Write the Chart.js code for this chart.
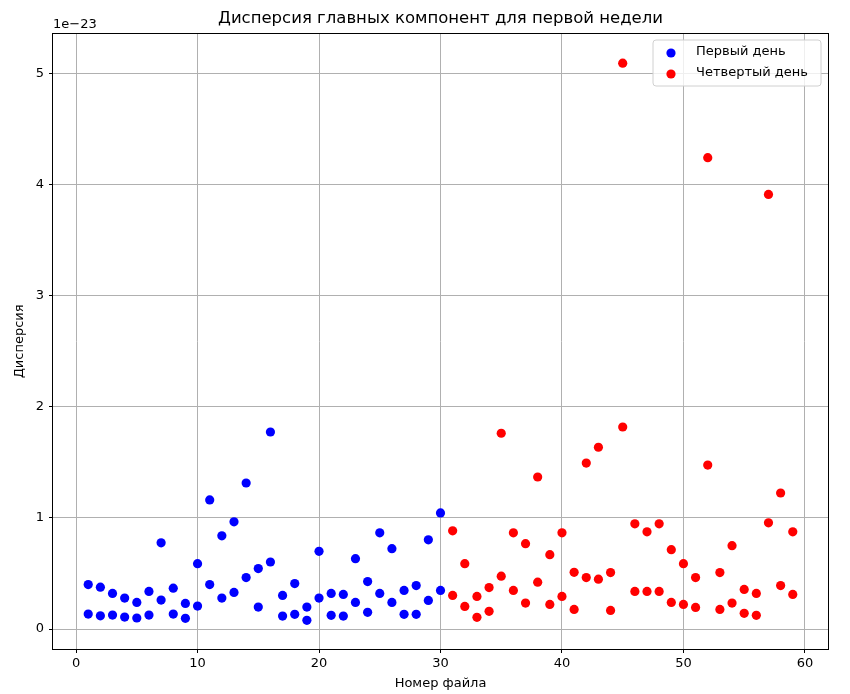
<!DOCTYPE html>
<html>
<head>
<meta charset="utf-8">
<script src="https://cdn.jsdelivr.net/npm/chart.js@4.4.1/dist/chart.umd.min.js"></script>
<style>
  html, body { margin: 0; padding: 0; background: #ffffff; }
  #wrap { width: 850px; height: 694px; }
</style>
</head>
<body>
<div id="wrap"><canvas id="c" width="850" height="694"></canvas></div>
<script>
// ---- Data (variance values in units of 1e-23) ----
const day1Files = [1,2,3,4,5,6,7,8,9,10,11,12,13,14,15,16,17,18,19,20,21,22,23,24,25,26,27,28,29,30];
const day1VarA = [0.400,0.376,0.320,0.278,0.239,0.338,0.776,0.367,0.230,0.588,1.162,0.839,0.965,1.314,0.544,1.773,0.302,0.409,0.197,0.699,0.320,0.311,0.633,0.427,0.866,0.723,0.347,0.391,0.803,1.045];
const day1VarB = [0.134,0.119,0.125,0.107,0.099,0.125,0.260,0.134,0.096,0.206,0.400,0.278,0.329,0.463,0.197,0.603,0.116,0.132,0.078,0.278,0.123,0.116,0.239,0.150,0.320,0.239,0.132,0.132,0.257,0.347];

const day4Files = [31,32,33,34,35,36,37,38,39,40,41,42,43,44,45,46,47,48,49,50,51,52,53,54,55,56,57,58,59];
const day4VarA = [0.884,0.588,0.293,0.373,1.762,0.866,0.768,1.368,0.669,0.866,0.510,1.493,1.636,0.508,5.093,0.947,0.875,0.947,0.714,0.588,0.463,4.242,0.508,0.750,0.356,0.320,3.911,1.224,0.875];
const day4VarB = [0.302,0.203,0.105,0.159,0.475,0.347,0.233,0.421,0.221,0.293,0.176,0.463,0.448,0.167,1.818,0.338,0.338,0.338,0.239,0.221,0.194,1.475,0.176,0.233,0.141,0.123,0.956,0.391,0.311];

const seriesNames = ['Первый день', 'Четвертый день'];
const seriesColors = ['#0000ff', '#ff0000'];
const xTicks = [0, 10, 20, 30, 40, 50, 60];
const yTicks = [0, 1, 2, 3, 4, 5];
const offsetText = '1e\u221223';
const chartTitle = 'Дисперсия главных компонент для первой недели';
const xTitle = 'Номер файла';
const yTitle = 'Дисперсия';

function toPoints(xs, a, b) {
  const pts = [];
  xs.forEach((x, i) => { pts.push({x: x, y: a[i]}); pts.push({x: x, y: b[i]}); });
  return pts;
}

const FONT = 'DejaVu Sans';

const framePlugin = {
  id: 'frame',
  afterDraw(chart) {
    const {ctx, chartArea: a} = chart;
    ctx.save();
    // axes frame
    ctx.strokeStyle = '#000000';
    ctx.lineWidth = 1;
    ctx.strokeRect(Math.round(a.left) - 0.5, Math.round(a.top) - 0.5,
                   Math.round(a.right) - Math.round(a.left) + 1, Math.round(a.bottom) - Math.round(a.top) + 1);
    // offset text
    ctx.fillStyle = '#000000';
    ctx.font = '13px "' + FONT + '"';
    ctx.textBaseline = 'middle';
    ctx.textAlign = 'left';
    ctx.fillText(offsetText, a.left, 25);
    // legend
    const bx = 653, by = 40, bw = 168, bh = 46, r = 3;
    ctx.beginPath();
    ctx.moveTo(bx + r, by);
    ctx.lineTo(bx + bw - r, by);
    ctx.quadraticCurveTo(bx + bw, by, bx + bw, by + r);
    ctx.lineTo(bx + bw, by + bh - r);
    ctx.quadraticCurveTo(bx + bw, by + bh, bx + bw - r, by + bh);
    ctx.lineTo(bx + r, by + bh);
    ctx.quadraticCurveTo(bx, by + bh, bx, by + bh - r);
    ctx.lineTo(bx, by + r);
    ctx.quadraticCurveTo(bx, by, bx + r, by);
    ctx.closePath();
    ctx.fillStyle = 'rgba(255,255,255,0.8)';
    ctx.fill();
    ctx.strokeStyle = '#d0d0d0';
    ctx.stroke();
    const rows = [53, 74];
    seriesNames.forEach((name, i) => {
      ctx.beginPath();
      ctx.arc(671, rows[i], 4.6, 0, Math.PI * 2);
      ctx.fillStyle = seriesColors[i];
      ctx.fill();
      ctx.fillStyle = '#000000';
      ctx.fillText(name, 696, rows[i] - 1);
    });
    ctx.restore();
  }
};

new Chart(document.getElementById('c'), {
  type: 'scatter',
  data: {
    datasets: [
      { label: seriesNames[0], data: toPoints(day1Files, day1VarA, day1VarB),
        backgroundColor: seriesColors[0], borderWidth: 0, pointRadius: 4.6, pointHoverRadius: 4.6 },
      { label: seriesNames[1], data: toPoints(day4Files, day4VarA, day4VarB),
        backgroundColor: seriesColors[1], borderWidth: 0, pointRadius: 4.6, pointHoverRadius: 4.6 }
    ]
  },
  options: {
    responsive: false,
    animation: false,
    devicePixelRatio: 1,
    layout: { padding: { left: 0, right: 22, top: 0, bottom: 0 } },
    plugins: {
      legend: { display: false },
      tooltip: { enabled: false },
      title: {
        display: true, text: chartTitle, color: '#000000', fullSize: false,
        font: { family: FONT, size: 16.5, weight: 'normal' },
        padding: { top: 9, bottom: 5 }
      }
    },
    scales: {
      x: {
        type: 'linear', min: -1.9, max: 61.9,
        afterBuildTicks(s) { s.ticks = xTicks.map(v => ({ value: v })); },
        afterFit(s) { s.height = 45; },
        ticks: { color: '#000000', font: { family: FONT, size: 13 }, padding: 3, maxRotation: 0 },
        grid: { color: '#b0b0b0', lineWidth: 1, tickColor: '#000000', tickLength: 4, tickWidth: 1 },
        border: { display: false },
        title: { display: true, text: xTitle, color: '#000000', font: { family: FONT, size: 13 }, padding: { top: 0, bottom: 3 } }
      },
      y: {
        type: 'linear', min: -0.18, max: 5.357,
        afterBuildTicks(s) { s.ticks = yTicks.map(v => ({ value: v })); },
        afterFit(s) { s.width = 53; },
        ticks: { color: '#000000', font: { family: FONT, size: 13 }, padding: 5 },
        grid: { color: '#b0b0b0', lineWidth: 1, tickColor: '#000000', tickLength: 4, tickWidth: 1 },
        border: { display: false },
        title: { display: true, text: yTitle, color: '#000000', font: { family: FONT, size: 13 }, padding: { top: 12, bottom: 0 } }
      }
    }
  },
  plugins: [framePlugin]
});
</script>
</body>
</html>
